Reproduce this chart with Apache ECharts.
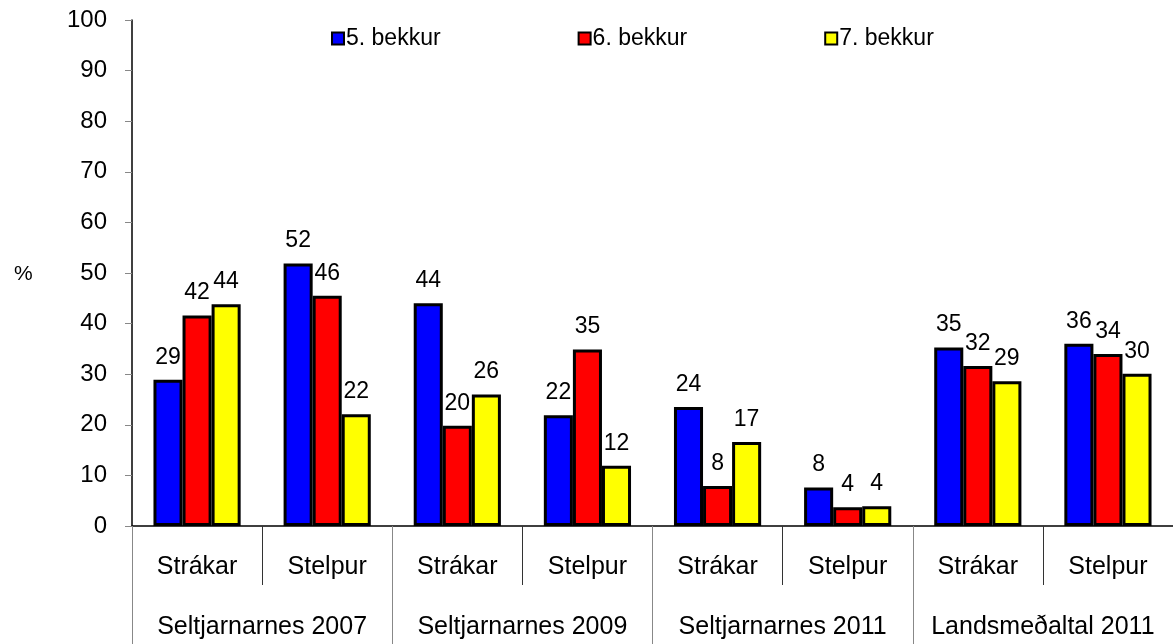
<!DOCTYPE html>
<html>
<head>
<meta charset="utf-8">
<script src="https://cdn.jsdelivr.net/npm/echarts@6/dist/echarts.min.js"></script>
<style>
html,body{margin:0;padding:0;background:#fff;}
#chart{width:1173px;height:644px;}
</style>
</head>
<body>
<div id="chart"></div>
<script>
const subCategories = ["Strákar","Stelpur","Strákar","Stelpur","Strákar","Stelpur","Strákar","Stelpur"];
const groupCategories = ["Seltjarnarnes 2007","Seltjarnarnes 2009","Seltjarnarnes 2011","Landsmeðaltal 2011"];
const seriesNames = ["5. bekkur","6. bekkur","7. bekkur"];
const grade5 = [28.9, 51.9, 44.0, 21.9, 23.5, 7.6, 35.3, 36.0];
const grade6 = [41.6, 45.5, 19.8, 34.9, 7.9, 3.7, 31.6, 34.0];
const grade7 = [43.8, 22.1, 26.0, 11.9, 16.6, 3.9, 28.6, 30.1];
const yTicks = [0,10,20,30,40,50,60,70,80,90,100];

const FONT = 'Liberation Sans, Arial, sans-serif';
const colors = ['#0000FF','#FF0000','#FFFF00'];
const values = [grade5, grade6, grade7];

const chart = echarts.init(document.getElementById('chart'));
chart.setOption({
  animation:false,
  textStyle:{fontFamily:FONT},
  legend:{
    data:seriesNames,
    left:326, top:22,
    itemWidth:12, itemHeight:12, itemGap:137,
    icon:'rect',
    textStyle:{fontSize:23,color:'#000',fontFamily:FONT, padding:[0,0,0,-3]},
    itemStyle:{borderColor:'#000',borderWidth:2}
  },
  graphic:[{type:'text',left:14,top:264,style:{text:'%',fontSize:21,fill:'#000',fontFamily:FONT}}],
  grid:{left:132,right:0,top:20,bottom:118,containLabel:false},
  xAxis:[
    {type:'category',data:subCategories,position:'bottom',
     axisLine:{show:true,lineStyle:{color:'#000',width:1.5}},
     axisTick:{show:true,length:59,lineStyle:{color:'#333'}},
     axisLabel:{fontSize:25,color:'#000',margin:29,fontFamily:FONT,interval:0},
     splitLine:{show:false}},
    {type:'category',data:groupCategories,position:'bottom',
     axisLine:{show:false},
     axisTick:{show:true,length:118,lineStyle:{color:'#888'}},
     axisLabel:{fontSize:25,color:'#000',margin:89,fontFamily:FONT,interval:0},
     splitLine:{show:false}}
  ],
  yAxis:{type:'value',min:0,max:100,interval:10,
    axisLine:{show:true,lineStyle:{color:'#000',width:1.5}},
    axisTick:{show:true,length:7,lineStyle:{color:'#888'}},
    axisLabel:{fontSize:24,color:'#000',margin:25,fontFamily:FONT,
      formatter:v=>yTicks.includes(v)?String(v):''},
    splitLine:{show:false}},
  series: seriesNames.map((n,i)=>({
    name:n,type:'bar',xAxisIndex:0,data:values[i],
    barGap:'0%',barCategoryGap:'33%',
    itemStyle:{color:colors[i],borderColor:'#000',borderWidth:3},
    label:{show:true,position:'top',distance:11,fontSize:23,color:'#000',fontFamily:FONT,
      formatter:p=>Math.round(p.value)}
  }))
});
</script>
</body>
</html>
